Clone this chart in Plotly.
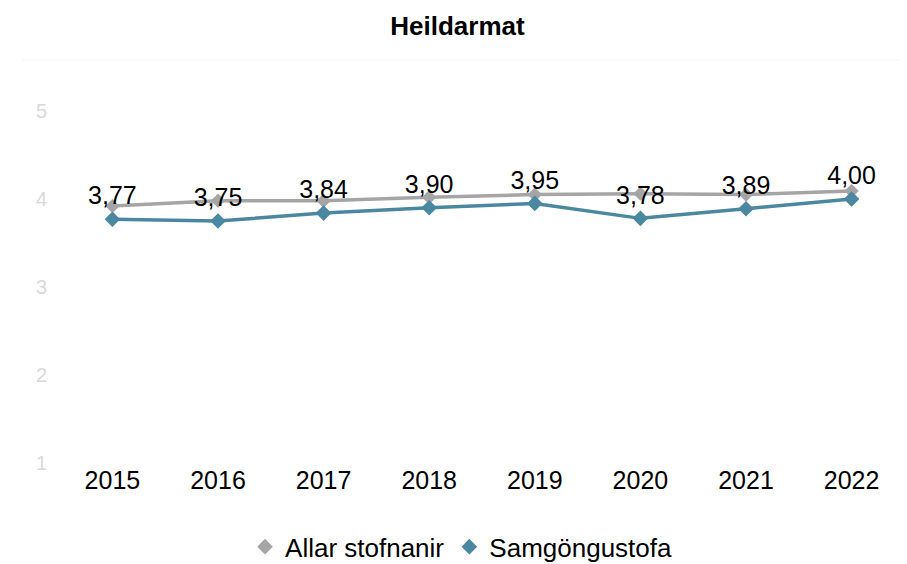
import plotly.graph_objects as go

# ── DATA ──────────────────────────────────────────────
years = ["2015", "2016", "2017", "2018", "2019", "2020", "2021", "2022"]
allar = [3.92, 3.98, 3.98, 4.02, 4.05, 4.06, 4.05, 4.09]
samgongustofa = [3.77, 3.75, 3.84, 3.90, 3.95, 3.78, 3.89, 4.00]
labels = [f"{v:.2f}".replace(".", ",") for v in samgongustofa]

GRAY = "#a5a5a5"
BLUE = "#4a87a1"
FONT = "Liberation Sans, Arial, sans-serif"

fig = go.Figure()

fig.add_trace(go.Scatter(
    x=years, y=allar,
    name="Allar stofnanir",
    mode="lines+markers",
    line=dict(color=GRAY, width=3.5),
    marker=dict(symbol="diamond", size=11, color=GRAY),
    showlegend=False,
))

fig.add_trace(go.Scatter(
    x=years, y=samgongustofa,
    name="Samgöngustofa",
    mode="lines+markers+text",
    line=dict(color=BLUE, width=3.5),
    marker=dict(symbol="diamond", size=12, color=BLUE),
    text=labels,
    textposition="top center",
    textfont=dict(size=25, color="#000000", family=FONT),
    showlegend=False,
))

# legend entries: diamonds only, as in the original
for name, color in [("Allar stofnanir", GRAY), ("Samgöngustofa", BLUE)]:
    fig.add_trace(go.Scatter(
        x=[None], y=[None], name=name, mode="markers",
        marker=dict(symbol="diamond", size=12, color=color),
    ))

# page body adds an 8px offset, so the figure is 8px smaller than the window
fig.update_layout(
    width=899, height=556,
    paper_bgcolor="white",
    plot_bgcolor="white",
    font=dict(family=FONT, color="#000000"),
    title=dict(
        text="<b>Heildarmat</b>",
        x=0.5, xanchor="center",
        y=0.985, yanchor="top",
        font=dict(size=26, color="#000000", family=FONT),
    ),
    margin=dict(l=55, r=6, t=103, b=101),
    showlegend=True,
    legend=dict(
        orientation="h",
        x=0.475, xanchor="center",
        yref="container",
        y=0.031, yanchor="middle",
        font=dict(size=26, color="#000000", family=FONT),
        itemwidth=30,
    ),
    xaxis=dict(
        type="category",
        showgrid=False, zeroline=False, showline=False,
        ticks="", automargin=False,
        tickfont=dict(size=25, color="#000000", family=FONT),
    ),
    yaxis=dict(
        range=[1, 5],
        tickvals=[1, 2, 3, 4, 5],
        showgrid=False, zeroline=False, showline=False,
        ticks="", automargin=False,
        tickfont=dict(size=20, color="#d9d9d9", family=FONT),
        ticklabelstandoff=15,
    ),
    shapes=[dict(
        type="line", xref="paper", yref="paper",
        x0=-0.049, x1=1.0, y0=1.145, y1=1.145,
        line=dict(color="#f5f5f5", width=1),
    )],
)

fig.write_html("out.html")
